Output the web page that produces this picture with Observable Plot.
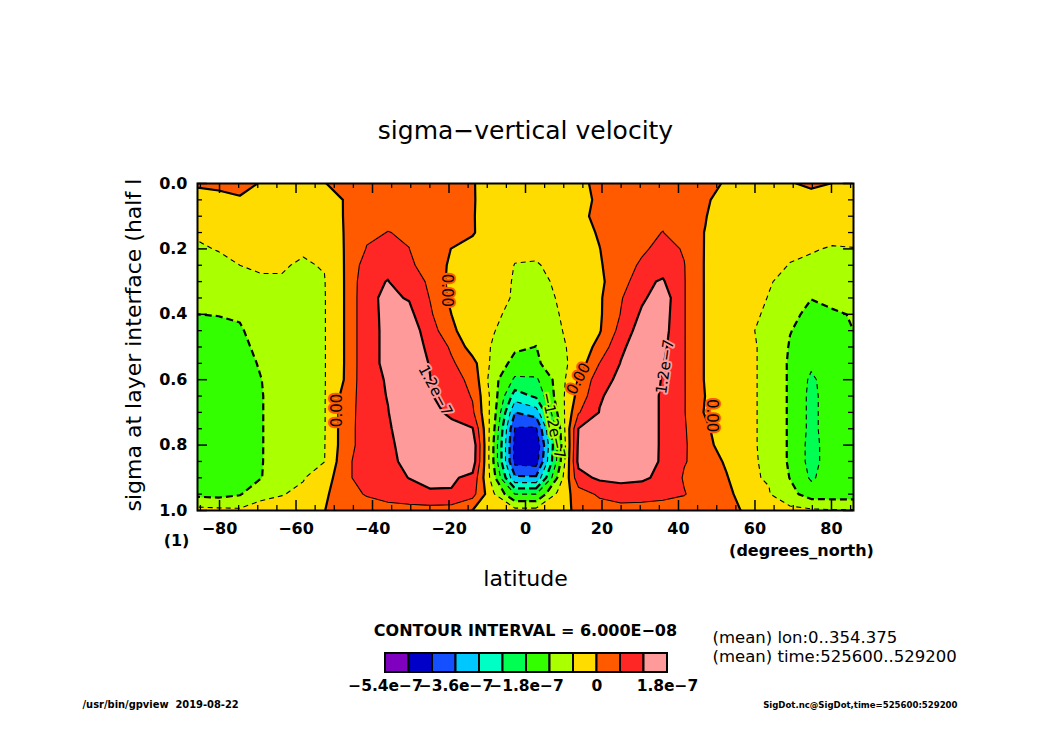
<!DOCTYPE html>
<html>
<head>
<meta charset="utf-8">
<script src="https://cdn.jsdelivr.net/npm/d3@7"></script>
<script src="https://cdn.jsdelivr.net/npm/@observablehq/plot@0.6"></script>
<style>
  html, body { margin: 0; padding: 0; background: #fff; }
  #chart { position: relative; width: 1050px; height: 742px; overflow: hidden; background: #fff; }
  #chart svg { position: absolute; left: 0; }
</style>
</head>
<body>
<div id="chart"></div>
<script>
// ---------------- data (values in units of 1e-8 s^-1) ----------------
const lat = [-85.76, -80.27, -74.74, -69.21, -63.68, -58.14, -52.61, -47.07, -41.53, -36.00, -30.46,
  -24.92, -19.38, -13.84, -8.30, -2.77, 2.77, 8.30, 13.84, 19.38, 24.92, 30.46, 36.00, 41.53, 47.07,
  52.61, 58.14, 63.68, 69.21, 74.74, 80.27, 85.76];
const sigma = [0, 0.05, 0.1, 0.15, 0.2, 0.25, 0.3, 0.35, 0.4, 0.45, 0.5, 0.55, 0.6, 0.65, 0.7, 0.75, 0.8, 0.85, 0.9, 0.95, 1.0];
// one row per sigma level (top to bottom), one column per latitude (south to north)
const omega = [
  [1, 1.5, 1.5, -0.3, -1, -1, -0.2, 2, 2, 2.5, 3, 3, 2, 0.2, -1.5, -1, -1, -1, -1, 1, 2, 2.5, 3, 2.5, 1.5, -0.5, -0.5, -0.5, -0.5, 1.2, -0.1, -1],
  [-3, -2, -0.5, -2, -2.5, -2.5, -2, 0.3, 3, 3.5, 4, 4, 3, 0.3, -2, -2, -2, -2, -1.5, 0.8, 2.5, 3.5, 4, 3.5, 1, -3, -3, -3, -3, -2.5, -3, -3],
  [-4, -4, -3, -3.5, -3.5, -3.5, -3.5, 0.5, 4, 4.8, 5, 4.5, 3, 0.3, -2.5, -3, -3, -3, -1.5, 1.5, 3, 4.5, 5, 4.5, 0.3, -4, -4, -4, -4, -4, -4, -4],
  [-5.5, -5.2, -4, -4.5, -4.5, -4.5, -4.5, 0.5, 5, 6.1, 5.5, 4.5, 3, 0.4, -3, -4, -4, -4, -2, 0.5, 3, 5, 6.1, 3, -0.2, -4.5, -4.5, -4.7, -5, -5.2, -5.2, -5],
  [-6.5, -5.8, -5, -5, -5.2, -5.7, -5.3, 0.5, 6.3, 8, 6.05, 3, -0.1, -1.5, -3.5, -5.3, -5.2, -4.5, -2.5, -0.1, 3, 5, 8, 5.5, -0.4, -4.8, -5, -5.3, -5.5, -5.8, -6.2, -6.1],
  [-8, -7, -6, -5.6, -5.8, -6.3, -5.8, 0.5, 9, 10.5, 7, 3.5, -1, -2, -4, -6.1, -6.3, -5, -3, -0.5, 3, 7, 10, 6.2, -0.5, -5, -5, -5.2, -6.1, -6.5, -6.8, -6.8],
  [-9, -8.5, -7.5, -6.4, -6.2, -7, -6.2, 0.5, 10.5, 12.2, 8, 5.35, -2, -2.5, -4.5, -6.3, -7, -5.5, -3.5, -0.8, 2.5, 11, 12.5, 6.3, -0.5, -5, -5, -5.8, -6.8, -7.5, -8, -8],
  [-10.5, -10, -9, -8, -7, -7.5, -6.3, 0.5, 10.8, 13.05, 11.6, 5.7, -1.4, -3, -4, -6.6, -8, -5.8, -4, -0.8, 5.5, 11, 15.3, 6.3, -0.5, -5, -5, -6.1, -8, -11.9, -10, -9],
  [-12, -11.8, -11.5, -9, -7.8, -7.5, -6.3, 0.5, 10.8, 12.9, 13.6, 6.8, 0, -3, -5, -7.5, -9, -6.2, -4, -0.8, 6.2, 13, 14.7, 6.3, -0.5, -5, -5.2, -6.5, -11, -13, -13, -11.5],
  [-13.5, -13.5, -12.5, -10, -8.5, -7.5, -6.3, 0.5, 10.8, 12.8, 15.2, 9, 1, -3, -5.8, -8.5, -10.5, -6.5, -4.5, -0.5, 8, 15, 14.2, 6.3, -0.5, -5, -5.5, -7, -11.8, -14, -14, -12],
  [-14.5, -15, -13.5, -10.5, -9, -7.5, -6.3, 0.5, 10.8, 12.8, 14.4, 11, 5.1, -2.75, -6.6, -11, -12.1, -7.5, -4, 2, 11, 15, 13.25, 6.3, -0.5, -5, -5.6, -6.5, -12.5, -15, -15, -12.5],
  [-15, -15.5, -14, -11.5, -9.5, -7.5, -6.3, 0.5, 10.8, 12.8, 14, 11.8, 6.9, 2, -8, -14, -13, -8.5, -3.5, 6.1, 12.2, 15.5, 12.25, 6.3, -0.5, -5, -5.6, -6.5, -13, -17, -15, -13],
  [-15.5, -16, -14.5, -12.1, -9.5, -7.5, -6.3, 0.6, 10.8, 12.3, 14.5, 12.05, 9, 4, -10, -19, -19, -10, 0.5, 9.5, 13.5, 15.5, 11.6, 6.3, -0.5, -5, -5.6, -6.5, -13, -19, -15, -13],
  [-15.5, -16, -14.5, -12.3, -9.5, -7.5, -6.3, 2.5, 9.5, 12.25, 15, 12.3, 10.1, 5.5, -9, -27, -23, -10, 2, 11.5, 14, 15.5, 11.1, 6.3, -0.1, -5, -5.6, -6.5, -13, -19.5, -15, -13],
  [-15.5, -16, -14.5, -12.3, -9.5, -7.5, -6.3, 3.3, 9, 11.8, 16.5, 13.5, 11, 7, -9.5, -36, -33, -12, 5.5, 12.2, 14.5, 15.5, 11.1, 6.3, -0.6, -5, -5.6, -6.5, -13, -19.5, -15, -13],
  [-15.5, -16, -14.5, -12.3, -9.5, -7.5, -6.3, 3.5, 9, 11.5, 14.3, 14, 13.5, 12.3, -11, -42.5, -43, -16, 12.1, 14, 15, 15.5, 11.1, 6.5, 1.5, -5, -5.6, -6.5, -13, -19.5, -15, -13],
  [-15, -15.5, -14.5, -12.3, -9.5, -7.5, -6.2, 3.5, 9, 11.3, 13.4, 14, 15, 16, -12.5, -44, -47, -18, 13, 15, 16, 15.5, 11.1, 6.5, 3, -4.5, -5.6, -6.5, -13, -20, -15, -13],
  [-14.5, -15, -14.2, -12.3, -9.3, -7.2, -6.1, 4.5, 9.5, 11, 13.1, 14, 15, 15.5, -12.5, -44, -45, -17, 13.5, 15.5, 16, 15.5, 11, 6.3, 4, -1, -5.5, -6.5, -13, -20, -15, -13],
  [-14, -14.5, -14, -12.2, -8.5, -6.3, -3, 4.5, 9.5, 10.5, 12.1, 13, 12.8, 10.5, -10, -35, -35, -12, 10, 13, 13.5, 13, 10.5, 5.5, 3, 0.5, -5.5, -6.3, -12.2, -18.8, -15, -13],
  [-13.5, -14, -12.5, -7, -6.2, -5, -1, 3.8, 6.5, 9, 10, 11.5, 11.5, 8, -5.5, -18, -18, -5, 3, 7, 9, 8.5, 7.5, 6.3, 3, 1, -2, -5.7, -10, -15, -15, -15],
  [-4, -4.5, -5, -4.5, -4, -3, -0.1, 3, 3, 3, 3.5, 3.5, 3, -0.1, -3, -4, -4, -2, 1, 3, 3.5, 3.5, 3.5, 3, 2.5, 1, -0.5, -3, -4.5, -5, -5.5, -5.5]
];
// contour levels (interval 6e-8) and their band colours
const levels = [-54, -48, -42, -36, -30, -24, -18, -12, -6, 0, 6, 12];
const interval = 6;
const colors = ["#8000c0", "#0000c8", "#1450ff", "#00c8ff", "#00ffc4", "#00ff50",
                "#33ff00", "#aaff00", "#ffdc00", "#ff5a00", "#ff2626", "#ff9a9a"];
const legendTicks = [-54, -36, -18, 0, 18];
// axis ticks
const latMajor = [-80, -60, -40, -20, 0, 20, 40, 60, 80];
const latMinor = [-85, -75, -70, -65, -55, -50, -45, -35, -30, -25, -15, -10, -5, 5, 10, 15, 25, 30, 35, 45, 50, 55, 65, 70, 75, 85];
const sigMajor = [0, 0.2, 0.4, 0.6, 0.8, 1.0];
const sigMinor = [0.05, 0.1, 0.15, 0.25, 0.3, 0.35, 0.45, 0.5, 0.55, 0.65, 0.7, 0.75, 0.85, 0.9, 0.95];
// contour labels
const contourLabels = [
  {lat: -49.3, sigma: 0.694, text: "0.00", angle: -90, level: 0},
  {lat: -20.5, sigma: 0.327, text: "0.00", angle: 90, level: 0},
  {lat: -23.6, sigma: 0.633, text: "1.2e−7", angle: 62, level: 12},
  {lat: 7.2, sigma: 0.74, text: "−1.2e−7", angle: 78, level: -12},
  {lat: 13.9, sigma: 0.597, text: "0.00", angle: -62, level: 0},
  {lat: 36.5, sigma: 0.56, text: "1.2e−7", angle: -82, level: 12},
  {lat: 48.6, sigma: 0.71, text: "0.00", angle: 90, level: 0}
];
const title = "sigma−vertical velocity";
const xLabel = "latitude";
const xUnits = "(degrees_north)";
const yLabel = "sigma at layer interface (half l";
const yUnits = "(1)";
const intervalText = "CONTOUR INTERVAL = 6.000E−08";
const meanNotes = ["(mean) lon:0..354.375", "(mean) time:525600..529200"];
const footLeft = "/usr/bin/gpview  2019-08-22";
const footRight = "SigDot.nc@SigDot,time=525600:529200";

// ---------------- layout ----------------
const W = 1050, H = 742;
const mL = 197, mR = 197, mT = 183, mB = 232;
const plotW = W - mL - mR, plotH = H - mT - mB;
const font = "DejaVu Sans, Verdana, sans-serif";
const footFont = "DejaVu Sans Condensed, DejaVu Sans, sans-serif";

// grid geometry (sample centres at the latitudes / sigma levels)
const nx = lat.length, ny = sigma.length;
const dxg = (lat[nx - 1] - lat[0]) / (nx - 1);
const dyg = (sigma[ny - 1] - sigma[0]) / (ny - 1);
const grid = {
  width: nx, height: ny,
  x1: lat[0] - dxg / 2, x2: lat[nx - 1] + dxg / 2,
  y1: sigma[0] - dyg / 2, y2: sigma[ny - 1] + dyg / 2
};
const values = omega.flat();

const lineLevels = levels.filter(l => l > -48);
const groups = [
  {lv: lineLevels.filter(l => l >= 0 && l % 12 === 0), w: 2.2, dash: null},
  {lv: lineLevels.filter(l => l >= 0 && l % 12 !== 0), w: 1.1, dash: null},
  {lv: lineLevels.filter(l => l < 0 && l % 12 === 0), w: 2.2, dash: "7,4"},
  {lv: lineLevels.filter(l => l < 0 && l % 12 !== 0), w: 1.1, dash: "5,4"}
];

const main = Plot.plot({
  width: W, height: H,
  marginLeft: mL, marginRight: mR, marginTop: mT, marginBottom: mB,
  style: {background: "white", color: "black", fontFamily: font, overflow: "visible"},
  x: {domain: [lat[0], lat[nx - 1]]},
  y: {domain: [0, 1], reverse: true},
  color: {type: "ordinal", domain: levels, range: colors},
  marks: [
    Plot.frame({fill: colors[1], stroke: "none"}),
    Plot.contour(values, {...grid, fill: Plot.identity, thresholds: levels, stroke: "none", clip: true}),
    ...groups.map(g => Plot.contour(values, {
      ...grid, value: Plot.identity, thresholds: g.lv, fill: "none", stroke: "black",
      strokeWidth: g.w, strokeDasharray: g.dash, strokeLinejoin: "round", clip: true
    })),
    Plot.text(contourLabels, {x: "lat", y: "sigma", text: "text", rotate: "angle",
      stroke: "level", strokeWidth: 4, fill: "black", fontSize: 15, fontFamily: font}),
    // inward ticks
    Plot.ruleX(latMajor, {x: d => d, insetTop: plotH - 10, stroke: "black", strokeWidth: 1.5}),
    Plot.ruleX(latMajor, {x: d => d, insetBottom: plotH - 10, stroke: "black", strokeWidth: 1.5}),
    Plot.ruleX(latMinor, {x: d => d, insetTop: plotH - 5, stroke: "black", strokeWidth: 1.3}),
    Plot.ruleX(latMinor, {x: d => d, insetBottom: plotH - 5, stroke: "black", strokeWidth: 1.3}),
    Plot.ruleY(sigMajor, {y: d => d, insetRight: plotW - 10, stroke: "black", strokeWidth: 1.5}),
    Plot.ruleY(sigMajor, {y: d => d, insetLeft: plotW - 10, stroke: "black", strokeWidth: 1.5}),
    Plot.ruleY(sigMinor, {y: d => d, insetRight: plotW - 5, stroke: "black", strokeWidth: 1.3}),
    Plot.ruleY(sigMinor, {y: d => d, insetLeft: plotW - 5, stroke: "black", strokeWidth: 1.3}),
    Plot.axisX({ticks: latMajor, anchor: "bottom", tickSize: 0, tickPadding: 12, fontSize: 16,
      fontWeight: "bold", label: null}),
    Plot.axisY({ticks: sigMajor, anchor: "left", tickSize: 0, tickPadding: 10, fontSize: 16,
      fontWeight: "bold", label: null, tickFormat: d => d.toFixed(1)}),
    Plot.frame({stroke: "black", strokeWidth: 2}),
    // titles and notes
    Plot.text([title], {frameAnchor: "top", dy: -53, fontSize: 25, lineAnchor: "middle"}),
    Plot.text([xLabel], {frameAnchor: "bottom", dy: 68, fontSize: 22, lineAnchor: "middle"}),
    Plot.text([xUnits], {frameAnchor: "bottom-right", dx: -52, dy: 40, fontSize: 16, fontWeight: "bold",
      textAnchor: "middle", lineAnchor: "middle"}),
    Plot.text([yLabel], {frameAnchor: "bottom-left", dx: -64, dy: 1, rotate: -90, textAnchor: "start",
      fontSize: 22, lineAnchor: "middle"}),
    Plot.text([yUnits], {frameAnchor: "bottom-left", dx: -21, dy: 30, fontSize: 16, fontWeight: "bold",
      textAnchor: "middle", lineAnchor: "middle"}),
    Plot.text([intervalText], {frameAnchor: "bottom", dy: 120, fontSize: 16, fontWeight: "bold",
      lineAnchor: "middle"}),
    Plot.text([meanNotes[0]], {frameAnchor: "bottom-left", dx: 515, dy: 127, fontSize: 16.5,
      textAnchor: "start", lineAnchor: "middle"}),
    Plot.text([meanNotes[1]], {frameAnchor: "bottom-left", dx: 515, dy: 146, fontSize: 16.5,
      textAnchor: "start", lineAnchor: "middle"}),
    Plot.text([footLeft], {frameAnchor: "bottom-left", dx: -115, dy: 194, fontSize: 11, fontWeight: "bold",
      fontFamily: footFont, textAnchor: "start", lineAnchor: "middle"}),
    Plot.text([footRight], {frameAnchor: "bottom-right", dx: 104, dy: 194, fontSize: 9.5, fontWeight: "bold",
      fontFamily: footFont, textAnchor: "end", lineAnchor: "middle"})
  ]
});
main.style.top = "0px";
document.getElementById("chart").appendChild(main);

// ---------------- colour legend ----------------
const fmtLegend = v => v === 0 ? "0" : (v < 0 ? "−" : "") + (Math.abs(v) / 10).toFixed(1) + "e−7";
const legend = Plot.plot({
  width: W, height: 60,
  marginLeft: 385, marginRight: W - 667, marginTop: 12, marginBottom: 29,
  style: {background: "transparent", color: "black", fontFamily: font, overflow: "visible"},
  x: {domain: [levels[0], levels[levels.length - 1] + interval]},
  y: {domain: [0, 1], axis: null},
  color: {type: "identity"},
  marks: [
    Plot.rect(levels, {x1: d => d, x2: d => d + interval, y1: 0, y2: 1,
      fill: (d, i) => colors[i], stroke: "black", strokeWidth: 2}),
    Plot.axisX({ticks: legendTicks, anchor: "bottom", tickSize: 0, tickPadding: 7, fontSize: 15.5,
      fontWeight: "bold", label: null, tickFormat: fmtLegend})
  ]
});
legend.style.top = "641px";
document.getElementById("chart").appendChild(legend);
</script>
</body>
</html>
